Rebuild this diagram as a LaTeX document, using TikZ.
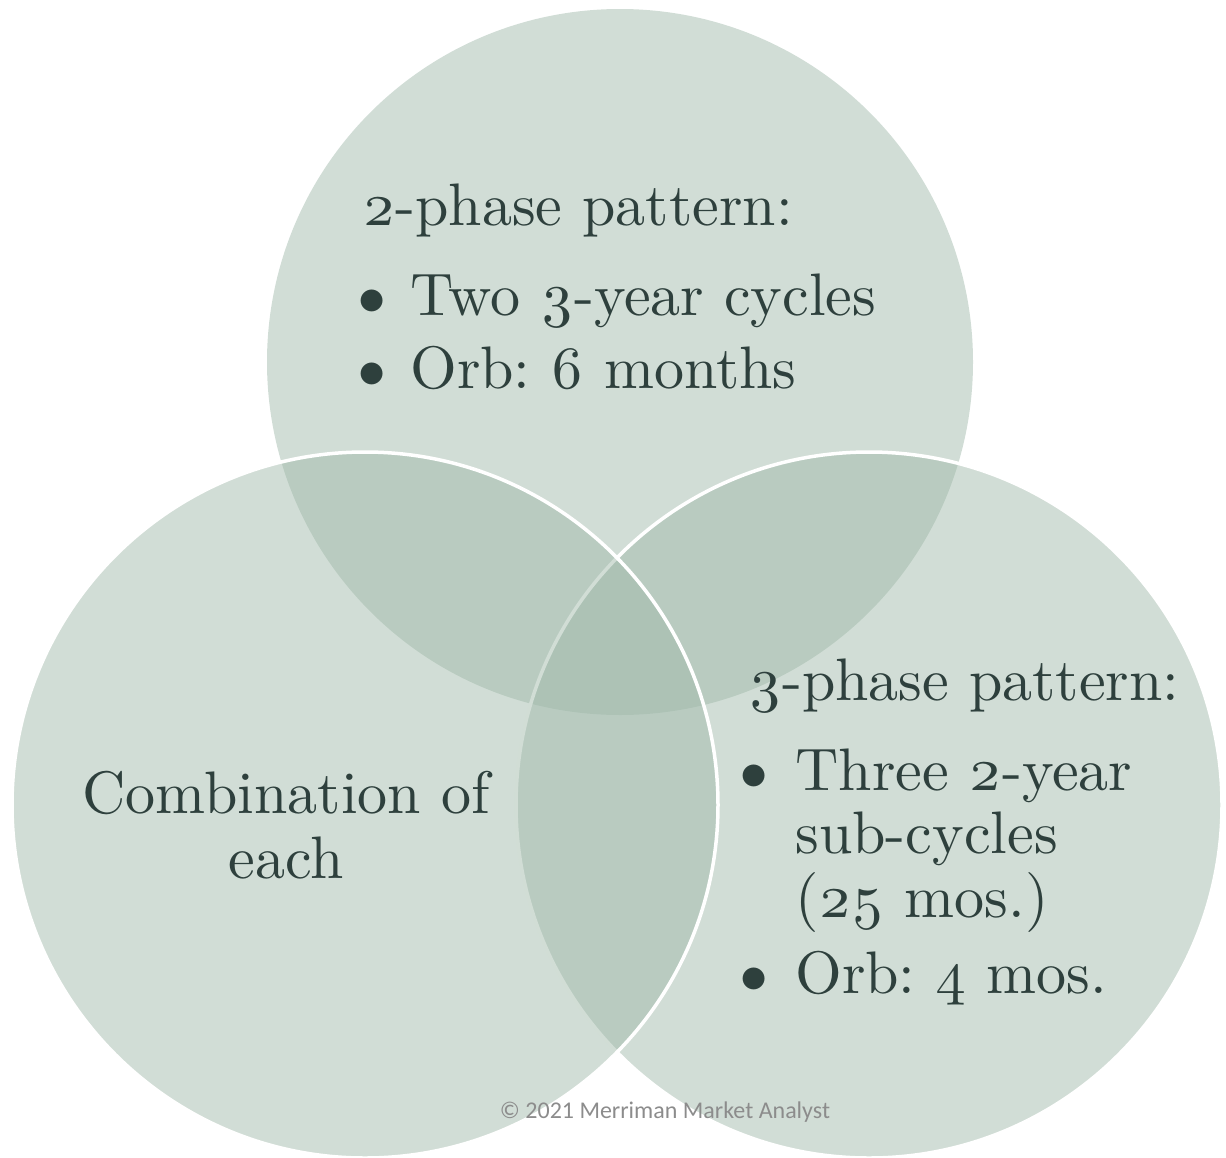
\documentclass[tikz,border=0pt]{standalone}
\usepackage{fontspec}
\newfontfamily\notefont{Carlito}
\newfontfamily\vennfont[Numbers=OldStyle]{lmroman10-regular.otf}
\definecolor{sage}{RGB}{159,184,169}
\definecolor{ink}{RGB}{46,64,61}
\definecolor{notegray}{RGB}{140,140,140}
\newcommand{\bigtext}{\vennfont\frenchspacing\fontsize{30}{32}\selectfont}

\begin{document}
\begin{tikzpicture}[x=0.5pt,y=-0.5pt]
		\tikzstyle{ring}=[fill=sage,fill opacity=0.48,draw=white,line width=1.75pt]
		\tikzstyle{label}=[anchor=base west,inner sep=0pt,text=ink,font=\bigtext]
		\tikzstyle{dot}=[label,font=\vennfont\fontsize{38}{40}\selectfont]
		\useasboundingbox (0,0) rectangle (1226,1157);
		
		% three circles, top one without outline
		\fill[sage,fill opacity=0.48] (620,362) circle (176.5pt);
		\draw[ring] (869,805) circle (176.5pt);
		\draw[ring] (365,805) circle (176.5pt);
		
		% top circle
		\node[label](twophase) at (362,225) {2-phase pattern:};
		\node[dot](b1) at (342,318) {\textbullet};
		\node[label](twocyc) at (410,315) {Two 3-year cycles};
		\node[dot](b2) at (342,391) {\textbullet};
		\node[label](orbsix) at (410,388) {Orb: 6 months};
		
		% right circle
		\node[label](threephase) at (748,700) {3-phase pattern:};
		\node[dot](b3) at (724,793) {\textbullet};
		\node[label](threecyc) at (795,790) {Three 2-year};
		\node[label](subcyc) at (795,853) {sub-cycles};
		\node[label](mos) at (795,917) {(25 mos.)};
		\node[dot](b4) at (724,996) {\textbullet};
		\node[label](orbfour) at (795,993) {Orb: 4 mos.};
		
		% left circle
		\node[label,anchor=base,align=center](combo) at (286,878) {Combination of\\[0.3pt]each};
		
		\node[anchor=base,text=notegray,font=\notefont\fontsize{12}{14}\selectfont](copy) at (665,1118) {\textcopyright{} 2021 Merriman Market Analyst};
\end{tikzpicture}
\end{document}
